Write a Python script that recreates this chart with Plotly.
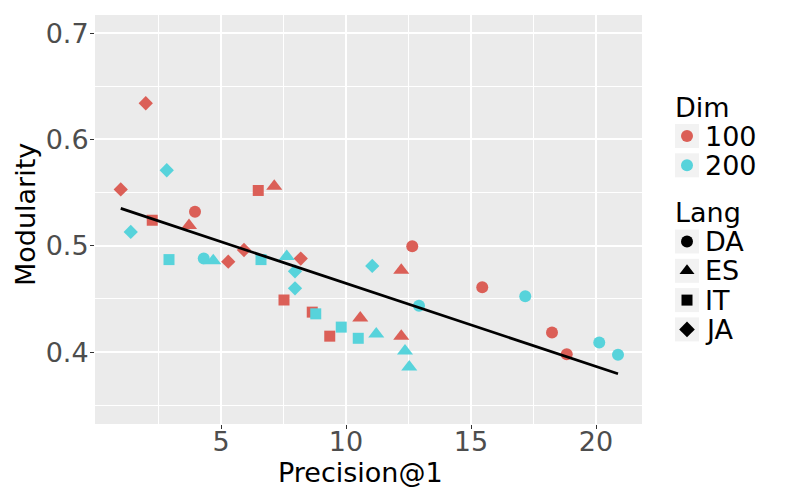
import numpy as np
import plotly.graph_objects as go

# ---- data ----
dims = ["100", "200"]
langs = ["DA", "ES", "IT", "JA"]

# Dim 100
da100_x = [3.96, 12.65, 15.45, 18.24, 18.83]
da100_y = [0.532, 0.4995, 0.461, 0.4185, 0.398]
es100_x = [7.13, 3.72, 10.57, 12.21, 12.21]
es100_y = [0.556, 0.519, 0.432, 0.477, 0.415]
it100_x = [6.49, 2.25, 7.52, 8.65, 9.35]
it100_y = [0.552, 0.524, 0.449, 0.4376, 0.415]
ja100_x = [1.99, 0.99, 5.29, 5.92, 8.19]
ja100_y = [0.634, 0.553, 0.485, 0.496, 0.488]

# Dim 200
da200_x = [4.31, 12.92, 17.17, 20.13, 20.88]
da200_y = [0.488, 0.4435, 0.4526, 0.409, 0.3975]
es200_x = [4.69, 7.63, 11.21, 12.36, 12.53]
es200_y = [0.486, 0.490, 0.417, 0.401, 0.386]
it200_x = [2.92, 6.60, 8.79, 9.81, 10.49]
it200_y = [0.487, 0.487, 0.436, 0.4235, 0.413]
ja200_x = [2.83, 1.39, 7.96, 7.96, 11.05]
ja200_y = [0.571, 0.513, 0.476, 0.460, 0.481]

x_ticks = [5, 10, 15, 20]
y_ticks = [0.4, 0.5, 0.6, 0.7]
y_ticktext = ["0.4", "0.5", "0.6", "0.7"]

series = {
    ("100", "DA"): (da100_x, da100_y), ("100", "ES"): (es100_x, es100_y),
    ("100", "IT"): (it100_x, it100_y), ("100", "JA"): (ja100_x, ja100_y),
    ("200", "DA"): (da200_x, da200_y), ("200", "ES"): (es200_x, es200_y),
    ("200", "IT"): (it200_x, it200_y), ("200", "JA"): (ja200_x, ja200_y),
}

# ---- styles ----
colors = {"100": "#DB5F57", "200": "#57D3DB"}
symbols = {"DA": "circle", "ES": "triangle-up", "IT": "square", "JA": "diamond"}
sizes = {"DA": 12, "ES": 14, "IT": 11, "JA": 11}
key_sizes = {"DA": 12, "ES": 13, "IT": 11, "JA": 12}

FONT = "DejaVu Sans"
FS = 27

# ---- geometry (page pixels; the page body has an 8px margin) ----
OFF = 8
W, H = 780, 494
ML, MR, MT, MB = 87, 0, 7, 78
PX0, PX1 = OFF + ML, OFF + W - MR          # plotting area in page px
PY0, PY1 = OFF + MT, OFF + H - MB
PANEL_RIGHT = 642
LEG_X0 = 650


def paper_x(px):
    return (px - PX0) / (PX1 - PX0)


def paper_y(py):
    return (PY1 - py) / (PY1 - PY0)


fig = go.Figure()

all_x, all_y = [], []
for (d, l), (xs, ys) in series.items():
    all_x += xs
    all_y += ys
    fig.add_trace(go.Scatter(
        x=xs, y=ys, mode="markers", showlegend=False,
        marker=dict(color=colors[d], symbol=symbols[l], size=sizes[l], line=dict(width=0)),
    ))

# linear fit over the data range
slope, intercept = np.polyfit(all_x, all_y, 1)
fx = np.array([min(all_x), max(all_x)])
fig.add_trace(go.Scatter(x=fx, y=slope * fx + intercept, mode="lines", showlegend=False,
                         line=dict(color="black", width=2.8)))

# ---- ggplot-style legend drawn on a hidden helper axis (page px units) ----
key_x, text_x, step = 687, 703, 29.3
groups = [
    ("Dim", 107.5, 136.0, [(d, colors[d], "circle", 12) for d in dims]),
    ("Lang", 212.0, 241.5, [(l, "black", symbols[l], key_sizes[l]) for l in langs]),
]
annotations = []
for title, ty, y0, items in groups:
    annotations.append(dict(text=title, x=LEG_X0 + 23, y=ty, xref="x2", yref="y2",
                            xanchor="left", yanchor="middle", showarrow=False,
                            font=dict(size=FS, color="black", family=FONT)))
    for i, (lab, col, sym, sz) in enumerate(items):
        yy = y0 + i * step
        fig.add_trace(go.Scatter(x=[key_x], y=[yy], xaxis="x2", yaxis="y2",
                                 mode="markers", showlegend=False, hoverinfo="skip",
                                 marker=dict(symbol="square", size=24, color="#F2F2F2",
                                             line=dict(width=0))))
        fig.add_trace(go.Scatter(x=[key_x], y=[yy], xaxis="x2", yaxis="y2",
                                 mode="markers", showlegend=False, hoverinfo="skip",
                                 marker=dict(symbol=sym, size=sz, color=col, opacity=1,
                                             line=dict(width=0))))
        annotations.append(dict(text=lab, x=text_x, y=yy, xref="x2", yref="y2",
                                xanchor="left", yanchor="middle", showarrow=False,
                                font=dict(size=FS, color="black", family=FONT)))

# axis titles
annotations.append(dict(text="Precision@1", x=paper_x(360), y=paper_y(472), xref="paper", yref="paper",
                        xanchor="center", yanchor="middle", showarrow=False,
                        font=dict(size=FS, color="black", family=FONT)))
annotations.append(dict(text="Modularity", x=paper_x(25), y=paper_y(215), xref="paper", yref="paper",
                        xanchor="center", yanchor="middle", showarrow=False, textangle=-90,
                        font=dict(size=FS, color="black", family=FONT)))

axis_common = dict(automargin=False, showgrid=True, gridcolor="white", gridwidth=1.5,
                   zeroline=False, showline=False,
                   ticks="outside", ticklen=4, tickcolor="#333333", tickwidth=1)

fig.update_layout(
    width=W, height=H,
    margin=dict(l=ML, r=MR, t=MT, b=MB),
    paper_bgcolor="white", plot_bgcolor="rgba(0,0,0,0)",
    font=dict(family=FONT, size=FS, color="black"),
    showlegend=False,
    shapes=[dict(type="rect", xref="x domain", yref="y domain", x0=0, x1=1, y0=0, y1=1,
                 fillcolor="#EBEBEB", line=dict(width=0), layer="below")],
    annotations=annotations,
    xaxis=dict(domain=[0, paper_x(PANEL_RIGHT)], range=[-0.04, 21.84], tickvals=x_ticks,
               minor=dict(tickvals=[2.5, 7.5, 12.5, 17.5], showgrid=True,
                          gridcolor="white", gridwidth=0.75),
               ticklabelstandoff=-10,
               tickfont=dict(size=FS, color="#4D4D4D", family=FONT), **axis_common),
    yaxis=dict(domain=[0, 1], range=[0.3324, 0.717], tickvals=y_ticks, ticktext=y_ticktext,
               minor=dict(tickvals=[0.35, 0.45, 0.55, 0.65], showgrid=True,
                          gridcolor="white", gridwidth=0.75),
               ticklabelstandoff=-4,
               tickfont=dict(size=FS, color="#4D4D4D", family=FONT), **axis_common),
    xaxis2=dict(domain=[paper_x(LEG_X0), 1], range=[LEG_X0, PX1], visible=False,
                anchor="y2", fixedrange=True),
    yaxis2=dict(domain=[0, 1], range=[PY1, PY0], visible=False, anchor="x2", fixedrange=True),
)

fig.write_html("out.html")
